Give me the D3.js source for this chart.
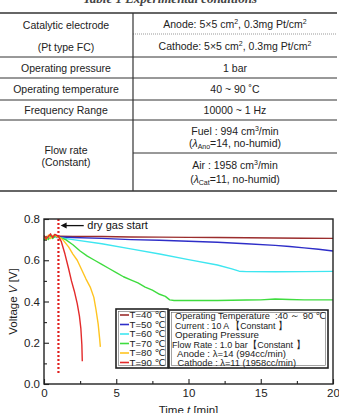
<!DOCTYPE html>
<html>
<head>
<meta charset="utf-8">
<script src="https://cdn.jsdelivr.net/npm/d3@7"></script>
<style>
  body { margin: 0; background: #fff; }
  svg { display: block; font-family: "Liberation Sans", Arial, "DejaVu Sans", sans-serif; }
</style>
</head>
<body>
<div id="chart"></div>
<script>
// data
const seriesNames = ["T=40 ℃", "T=50 ℃", "T=60 ℃", "T=70 ℃", "T=80 ℃", "T=90 ℃"];
const seriesColors = ["#9b2d2d", "#2e2ec8", "#3ee6f0", "#3fdc3f", "#ffc420", "#e32b2b"];

const startT = [0, 0.15, 0.3, 0.45, 0.6, 0.75, 0.9, 1.0];

const t40 = startT.concat([2, 4, 6, 8, 10, 12, 14, 16, 18, 20]);
const v40 = [0.705, 0.715, 0.712, 0.72, 0.715, 0.72, 0.716, 0.717,
    0.716, 0.715, 0.713, 0.712, 0.711, 0.710, 0.709, 0.708, 0.707, 0.706];

const t50 = startT.concat([2, 4, 6, 8, 10, 12, 14, 16, 17, 18, 19, 20]);
const v50 = [0.70, 0.71, 0.705, 0.715, 0.712, 0.718, 0.71, 0.713,
    0.71, 0.706, 0.70, 0.697, 0.692, 0.687, 0.68, 0.672, 0.667, 0.66, 0.653, 0.645];

const t60 = startT.concat([2, 4, 6, 8, 10, 12, 13, 13.5, 14, 16, 18, 20]);
const v60 = [0.70, 0.705, 0.715, 0.708, 0.72, 0.712, 0.716, 0.71,
    0.70, 0.68, 0.655, 0.63, 0.603, 0.577, 0.558, 0.547, 0.545, 0.544, 0.545, 0.546];

const t70 = startT.concat([1.5, 2, 2.5, 3, 3.5, 4, 4.5, 5, 5.5, 6, 6.5, 7, 7.5, 8, 8.4, 8.7, 9, 10, 12, 14, 15, 16, 17, 18, 20]);
const v70 = [0.695, 0.712, 0.70, 0.718, 0.705, 0.715, 0.72, 0.712,
    0.70, 0.675, 0.645, 0.62, 0.60, 0.58, 0.56, 0.54, 0.52, 0.505, 0.49, 0.47, 0.455, 0.435,
    0.425, 0.408, 0.405, 0.405, 0.405, 0.407, 0.408, 0.412, 0.41, 0.408, 0.408];

const t80 = startT.concat([1.3, 1.7, 2.0, 2.3, 2.6, 2.9, 3.2, 3.45, 3.6, 3.75, 3.85, 3.9]);
const v80 = [0.71, 0.70, 0.722, 0.705, 0.718, 0.725, 0.712, 0.715,
    0.70, 0.665, 0.63, 0.60, 0.555, 0.51, 0.47, 0.42, 0.36, 0.29, 0.22, 0.18];

const t90 = startT.concat([1.2, 1.45, 1.7, 1.9, 2.1, 2.3, 2.45, 2.55, 2.62, 2.65]);
const v90 = [0.72, 0.705, 0.715, 0.728, 0.71, 0.725, 0.72, 0.715,
    0.69, 0.63, 0.56, 0.50, 0.45, 0.39, 0.33, 0.27, 0.19, 0.11];

const seriesT = [t40, t50, t60, t70, t80, t90];
const seriesV = [v40, v50, v60, v70, v80, v90];

const xTicks = [0, 5, 10, 15, 20];
const xMinorTicks = [2.5, 7.5, 12.5, 17.5];
const yTicks = [0, 0.2, 0.4, 0.6, 0.8];
const yMinorTicks = [0.1, 0.3, 0.5, 0.7];
const dryGasStart = 1.0;

const conditionLines = [
    "Operating Temperature  :40 ～ 90 ℃",
    "Current : 10 A 【Constant 】",
    "Operating Pressure",
    "Flow Rate : 1.0 bar【Constant 】",
    " Anode : λ=14 (994cc/min)",
    " Cathode : λ=11 (1958cc/min)"
];

// canvas
const canvWidth = 339, canvHeight = 413;
const margin = {top: 219, right: 6, bottom: 29, left: 44};
const width = canvWidth - margin.left - margin.right;
const height = canvHeight - margin.top - margin.bottom;

const svg = d3.select('#chart')
    .append('svg')
    .attr('width', canvWidth)
    .attr('height', canvHeight);

// ---------- table ----------
const tbl = svg.append('g').attr('font-size', 10.5).attr('fill', '#222');

tbl.append('text')
    .attr('x', 170).attr('y', 3)
    .attr('text-anchor', 'middle')
    .attr('font-family', '"Liberation Serif", serif')
    .attr('font-weight', 'bold')
    .attr('font-style', 'italic')
    .attr('font-size', 13)
    .attr('fill', '#444')
    .text('Table 1 Experimental conditions');

const colL = 66, colR = 235, divX = 133;
const hline = (y, x1, x2, w, dash) => {
    const l = tbl.append('line')
        .attr('x1', x1).attr('x2', x2).attr('y1', y).attr('y2', y)
        .attr('stroke', dash ? '#999' : '#333')
        .attr('stroke-width', w);
    if (dash) l.attr('stroke-dasharray', '1,1');
};
hline(13, 0, 337, 1.4);
hline(34, divX, 337, 1, true);
hline(57, 0, 337, 1);
hline(78, 0, 337, 1);
hline(100, 0, 337, 1);
hline(120, 0, 337, 1);
hline(153, divX, 337, 1);
hline(191, 0, 337, 1.4);
tbl.append('line')
    .attr('x1', divX).attr('x2', divX).attr('y1', 13).attr('y2', 191)
    .attr('stroke', '#333').attr('stroke-width', 1.2);

function cell(x, y, parts) {
    const t = tbl.append('text')
        .attr('x', x).attr('y', y).attr('dy', '0.35em')
        .attr('text-anchor', 'middle');
    parts.forEach(p => {
        const s = t.append('tspan').text(p.t);
        if (p.sup) s.attr('font-size', 7).attr('dy', -4);
        if (p.sub) s.attr('font-size', 7).attr('dy', 2);
        if (p.back) s.attr('dy', p.back);
        if (p.it) s.attr('font-style', 'italic');
    });
}
cell(colL, 25, [{t: 'Catalytic electrode'}]);
cell(colL, 47, [{t: '(Pt type FC)'}]);
cell(colL, 68, [{t: 'Operating pressure'}]);
cell(colL, 89, [{t: 'Operating temperature'}]);
cell(colL, 110, [{t: 'Frequency Range'}]);
cell(colL, 150, [{t: 'Flow rate'}]);
cell(colL, 162, [{t: '(Constant)'}]);

cell(colR, 24, [{t: 'Anode: 5×5  cm'}, {t: '2', sup: true}, {t: ', 0.3mg Pt/cm', back: 4}, {t: '2', sup: true}]);
cell(colR, 46, [{t: 'Cathode: 5×5  cm'}, {t: '2', sup: true}, {t: ', 0.3mg Pt/cm', back: 4}, {t: '2', sup: true}]);
cell(colR, 68, [{t: '1 bar'}]);
cell(colR, 89, [{t: '40 ~ 90 ˚C'}]);
cell(colR, 110, [{t: '10000 ~  1 Hz'}]);
cell(colR, 131, [{t: 'Fuel : 994  cm'}, {t: '3', sup: true}, {t: '/min', back: 4}]);
cell(colR, 143, [{t: '('}, {t: 'λ', it: true}, {t: 'Ano', sub: true}, {t: '=14,  no-humid)', back: -2}]);
cell(colR, 165, [{t: 'Air : 1958  cm'}, {t: '3', sup: true}, {t: '/min', back: 4}]);
cell(colR, 179, [{t: '('}, {t: 'λ', it: true}, {t: 'Cat', sub: true}, {t: '=11,  no-humid)', back: -2}]);

// ---------- chart ----------
const g = svg.append('g')
    .attr('transform', `translate(${margin.left},${margin.top})`);

const x = d3.scaleLinear().domain([0, 20]).range([0, width]);
const y = d3.scaleLinear().domain([0, 0.8]).range([height, 0]);

// curves
const line = d3.line().x(d => x(d[0])).y(d => y(d[1]));
seriesT.forEach((ts, i) => {
    g.append('path')
        .datum(ts.map((t, j) => [t, seriesV[i][j]]))
        .attr('fill', 'none')
        .attr('stroke', seriesColors[i])
        .attr('stroke-width', 1.4)
        .attr('stroke-linejoin', 'round')
        .attr('d', line);
});

// dry gas start marker
g.append('line')
    .attr('x1', x(dryGasStart)).attr('x2', x(dryGasStart))
    .attr('y1', y(0.8)).attr('y2', y(0.05))
    .attr('stroke', '#e0201f')
    .attr('stroke-width', 2.2)
    .attr('stroke-dasharray', '2,2');

const arrowY = y(0.768);
g.append('line')
    .attr('x1', x(1.5)).attr('x2', x(2.75))
    .attr('y1', arrowY).attr('y2', arrowY)
    .attr('stroke', '#111').attr('stroke-width', 1.3);
g.append('path')
    .attr('d', `M${x(1.15)},${arrowY} l6,-3 l0,6 z`)
    .attr('fill', '#111');
g.append('text')
    .attr('x', x(3.0)).attr('y', arrowY).attr('dy', '0.35em')
    .attr('font-size', 11).attr('fill', '#111')
    .text('dry gas start');

// axes
g.append('g')
    .attr('transform', `translate(0,${height})`)
    .call(d3.axisBottom(x).tickValues(xTicks).tickSizeInner(-5).tickSizeOuter(0).tickPadding(5).tickFormat(d3.format('d')));
g.append('g')
    .attr('transform', `translate(0,${height})`)
    .call(d3.axisBottom(x).tickValues(xMinorTicks).tickSizeInner(-3).tickSizeOuter(0).tickFormat(''));
g.append('g')
    .call(d3.axisLeft(y).tickValues(yTicks).tickSizeInner(-5).tickSizeOuter(0).tickPadding(4).tickFormat(d3.format('.1f')));
g.append('g')
    .call(d3.axisLeft(y).tickValues(yMinorTicks).tickSizeInner(-3).tickSizeOuter(0).tickFormat(''));

g.selectAll('.domain').remove();
g.selectAll('.tick line').attr('stroke', '#222').attr('stroke-width', 1.1);
g.selectAll('.tick text')
    .attr('font-size', 11.5)
    .attr('font-family', '"Liberation Sans", Arial, sans-serif')
    .attr('fill', '#222');

// frame
g.append('rect')
    .attr('width', width).attr('height', height)
    .attr('fill', 'none')
    .attr('stroke', '#222')
    .attr('stroke-width', 1.4);

// axis titles
const yTitle = svg.append('text')
    .attr('transform', `translate(13,${margin.top + height / 2}) rotate(-90)`)
    .attr('text-anchor', 'middle')
    .attr('dy', '0.35em')
    .attr('font-size', 11.5)
    .attr('fill', '#222');
yTitle.append('tspan').text('Voltage ');
yTitle.append('tspan').attr('font-style', 'italic').text('V');
yTitle.append('tspan').text(' [V]');

const xTitle = svg.append('text')
    .attr('x', margin.left + width / 2)
    .attr('y', 414)
    .attr('text-anchor', 'middle')
    .attr('font-size', 11.5)
    .attr('fill', '#222');
xTitle.append('tspan').text('Time ');
xTitle.append('tspan').attr('font-style', 'italic').text('t');
xTitle.append('tspan').text(' [min]');

// legend box
const leg = svg.append('g').attr('font-size', 9.5).attr('fill', '#222');
leg.append('rect')
    .attr('x', 116).attr('y', 309).attr('width', 52).attr('height', 59)
    .attr('fill', '#fff').attr('stroke', '#222').attr('stroke-width', 1.6);
leg.append('rect')
    .attr('x', 118.5).attr('y', 311.5).attr('width', 47).attr('height', 54)
    .attr('fill', 'none').attr('stroke', '#666').attr('stroke-width', 0.6);
seriesNames.forEach((name, i) => {
    const ly = 315 + i * 9.5;
    leg.append('line')
        .attr('x1', 120).attr('x2', 129).attr('y1', ly).attr('y2', ly)
        .attr('stroke', seriesColors[i]).attr('stroke-width', 1.6);
    leg.append('text')
        .attr('x', 129.5).attr('y', ly).attr('dy', '0.35em')
        .attr('textLength', 36).attr('lengthAdjust', 'spacingAndGlyphs')
        .text(name);
});

// operating conditions box
leg.append('rect')
    .attr('x', 169).attr('y', 310).attr('width', 159).attr('height', 58)
    .attr('fill', '#fff').attr('stroke', '#222').attr('stroke-width', 1.6);
leg.append('rect')
    .attr('x', 171.5).attr('y', 312.5).attr('width', 154).attr('height', 53)
    .attr('fill', 'none').attr('stroke', '#666').attr('stroke-width', 0.6);
const condX = [175, 175, 175, 172, 175, 175];
const condLen = [151, 112, 84, 133, 111, 121];
conditionLines.forEach((txt, i) => {
    leg.append('text')
        .attr('x', condX[i]).attr('y', 316 + i * 9.4).attr('dy', '0.35em')
        .attr('textLength', condLen[i]).attr('lengthAdjust', 'spacingAndGlyphs')
        .style('white-space', 'pre')
        .text(txt);
});
</script>
</body>
</html>
